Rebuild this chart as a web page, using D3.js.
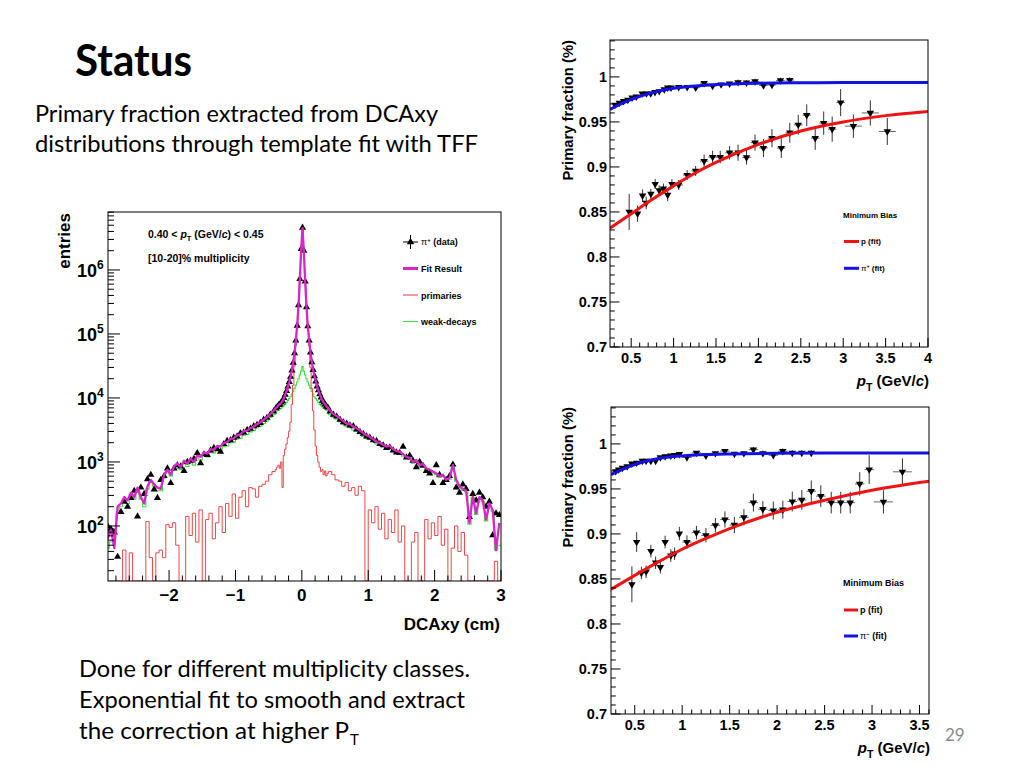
<!DOCTYPE html>
<html><head><meta charset="utf-8">
<script src="https://cdn.jsdelivr.net/npm/d3@7"></script>
<style>
html,body{margin:0;padding:0;background:#fff;}
svg{display:block;}
</style></head><body>
<svg id="c" width="1024" height="768"></svg>
<script>
// ---------------- DATA ----------------
// Left plot: DCAxy template fit, 0.40<pT<0.45, [10-20]% multiplicity
// bins: 0.05 cm in tails, 0.02 cm in the core (-0.4..0.4)
const dcaTicks = [-2, -1, 0, 1, 2, 3];
const entriesTicks = [1e2, 1e3, 1e4, 1e5, 1e6];
const entriesTickExp = ["2", "3", "4", "5", "6"];

const piData = [
  // left tail
  100,89,79,33,166,240,200,275,355,141,398,316,537,631,372,275,525,603,794,468,794,891,851,724,1000,1047,1122,1380,955,1318,1288,1514,1660,1585,1445,1905,2138,2188,2399,2512,2818,2884,3162,3311,3631,3802,4074,4571,4898,5495,6166,
  // core
  6900,7250,7750,7950,8500,8900,10000,11200,12900,15100,17800,21400,26900,35500,50100,79400,135000,282000,724000,2140000,4570000,2000000,661000,263000,132000,79400,51300,36300,27500,21900,18200,15100,13200,11500,10200,9100,8500,7950,7400,7100,
  // right tail
  6166,5495,5129,4571,4169,3981,3715,3631,3236,2951,2754,2512,2399,2188,2138,1905,1820,1660,1698,1514,1413,1380,1738,1175,1259,1047,832,1000,871,724,661,468,891,631,468,525,603,912,398,331,447,380,138,316,251,331,282,200,240,72,158,148
];
const fitResult = [
  63,89,45,200,224,282,251,331,282,398,282,224,417,525,447,398,380,631,759,631,851,955,832,1047,933,1122,1000,1259,1202,1413,1349,1585,1549,1778,1738,1995,2042,2291,2344,2630,2692,3020,3090,3388,3548,3890,4169,4571,5012,5623,6310,
  6950,7200,7800,8000,8450,8950,9900,11300,12800,15200,17700,21500,26800,35700,50500,80000,137000,280000,720000,2100000,4500000,1980000,665000,265000,131000,80000,51000,36500,27300,22000,18100,15200,13100,11600,10100,9150,8450,8000,7350,7150,
  6310,5623,5248,4786,4365,3981,3890,3548,3388,3090,2818,2630,2455,2291,2042,1995,1862,1738,1778,1585,1479,1445,1318,1202,1148,1000,1072,891,933,794,759,708,661,603,631,525,562,891,525,417,380,355,112,288,158,282,251,126,224,178,42,112
];
const primaries = [
  0,0,0,0,0,42,0,38,0,0,0,0,117,32,0,38,42,32,105,95,112,50,0,0,141,71,158,56,178,0,126,158,63,112,200,79,224,141,316,132,282,355,200,398,380,282,417,447,501,631,708,
  759,832,891,794,1000,398,1259,1585,1905,2399,3020,4169,7943,15850,31620,66070,120200,263000,691800,2089000,4571000,1950000,645700,251200,123000,66070,30200,14130,6310,3162,1778,1259,1000,832,708,759,631,724,603,661,
  708,631,525,501,417,479,355,398,302,417,355,0,178,112,200,89,158,63,126,79,178,56,100,0,0,56,79,0,0,126,63,112,71,141,50,89,0,45,100,40,79,35,0,0,0,0,0,0,0,0,28,0
];
const weakDecays = [
  45,56,89,158,200,251,224,316,263,355,263,200,380,479,417,355,355,562,676,603,759,851,759,933,851,1000,891,1122,1072,1259,1202,1413,1380,1549,1514,1738,1778,1995,2042,2291,2344,2630,2692,2951,3090,3388,3631,3981,4365,4898,5495,
  6026,6310,6457,6761,6918,7244,7586,7943,8511,9120,9772,10470,11480,12590,14130,15850,17780,19950,22910,26300,30900,26300,22910,19950,17780,15850,14130,12590,11480,10470,9772,9120,8511,7943,7586,7244,6918,6761,6457,6310,
  5495,5012,4677,4266,3890,3548,3467,3162,3020,2754,2512,2344,2291,2089,1905,1862,1738,1622,1660,1479,1380,1349,1230,1148,1096,955,1023,851,891,759,724,676,631,575,603,501,537,851,501,398,363,339,107,275,151,269,240,120,214,170,42,50
];

// Right plots: primary fraction vs pT
const fracTicks = [0.7, 0.75, 0.8, 0.85, 0.9, 0.95, 1];
const ptTicksTop = [0.5, 1, 1.5, 2, 2.5, 3, 3.5, 4];
const ptTicksBot = [0.5, 1, 1.5, 2, 2.5, 3, 3.5];

// top panel
const piTopX = [0.31,0.36,0.41,0.46,0.51,0.56,0.63,0.68,0.73,0.78,0.83,0.89,0.93,0.97,1.06,1.16,1.26,1.36,1.46,1.56,1.66,1.76,1.86,1.96,2.06,2.16,2.26,2.37];
const piTopY = [0.969,0.971,0.973,0.9745,0.977,0.978,0.9815,0.9815,0.9815,0.983,0.984,0.986,0.988,0.988,0.9885,0.9885,0.988,0.993,0.990,0.9915,0.9925,0.994,0.9935,0.995,0.9905,0.991,0.996,0.9965];
const piTopErr = [0.0015,0.0015,0.0015,0.0015,0.0015,0.0015,0.0015,0.0015,0.0015,0.0015,0.0015,0.0015,0.0015,0.0015,0.002,0.002,0.002,0.002,0.002,0.002,0.002,0.003,0.003,0.003,0.003,0.003,0.003,0.003];
const piTopXErr = [0.025,0.025,0.025,0.025,0.025,0.025,0.025,0.025,0.025,0.025,0.025,0.025,0.025,0.025,0.05,0.05,0.05,0.05,0.05,0.05,0.05,0.05,0.05,0.05,0.05,0.05,0.05,0.05];
const pTopX = [0.476,0.575,0.634,0.677,0.732,0.783,0.83,0.88,0.93,0.98,1.06,1.16,1.26,1.36,1.46,1.55,1.66,1.76,1.86,1.96,2.06,2.16,2.27,2.37,2.47,2.57,2.67,2.77,2.87,2.97,3.12,3.32,3.52];
const pTopY = [0.850,0.848,0.868,0.860,0.870,0.881,0.874,0.876,0.869,0.881,0.880,0.891,0.8955,0.9065,0.911,0.911,0.9158,0.9158,0.9106,0.927,0.921,0.932,0.921,0.938,0.9468,0.9575,0.932,0.9486,0.942,0.9715,0.9453,0.960,0.9394];
const pTopErr = [0.020,0.009,0.007,0.007,0.0055,0.0055,0.0055,0.0055,0.007,0.0055,0.0055,0.0055,0.0055,0.007,0.007,0.007,0.0075,0.009,0.008,0.009,0.010,0.010,0.011,0.011,0.011,0.012,0.013,0.013,0.014,0.015,0.013,0.014,0.015];
const pTopXErr = [0.025,0.025,0.025,0.025,0.025,0.025,0.025,0.025,0.025,0.025,0.05,0.05,0.05,0.05,0.05,0.05,0.05,0.05,0.05,0.05,0.05,0.05,0.05,0.05,0.05,0.05,0.05,0.05,0.05,0.05,0.1,0.1,0.1];
const fitTopX = [0.25,0.5,0.75,1,1.25,1.5,2,2.5,3,3.5,4];
const fitTopPi = [0.964,0.975,0.9826,0.9874,0.990,0.9915,0.9930,0.9935,0.9937,0.9937,0.9937];
const fitTopP = [0.832,0.848,0.864,0.879,0.893,0.905,0.925,0.940,0.950,0.957,0.9616];

// bottom panel
const piBotX = [0.30,0.33,0.37,0.42,0.47,0.52,0.58,0.62,0.67,0.72,0.77,0.82,0.88,0.92,0.97,1.05,1.15,1.25,1.35,1.45,1.55,1.65,1.75,1.85,1.96,2.06,2.16,2.26,2.36];
const piBotY = [0.9696,0.9715,0.9733,0.975,0.978,0.979,0.981,0.981,0.981,0.981,0.985,0.986,0.987,0.9874,0.9885,0.985,0.990,0.987,0.9896,0.992,0.9889,0.9896,0.9937,0.9896,0.9874,0.9919,0.990,0.990,0.990];
const piBotErr = [0.0015,0.0015,0.0015,0.0015,0.0015,0.0015,0.0015,0.0015,0.0015,0.0015,0.0015,0.0015,0.0015,0.0015,0.0015,0.002,0.002,0.002,0.002,0.002,0.002,0.002,0.003,0.003,0.003,0.003,0.003,0.003,0.003];
const piBotXErr = [0.025,0.025,0.025,0.025,0.025,0.025,0.025,0.025,0.025,0.025,0.025,0.025,0.025,0.025,0.025,0.05,0.05,0.05,0.05,0.05,0.05,0.05,0.05,0.05,0.05,0.05,0.05,0.05,0.05];
const pBotX = [0.47,0.52,0.57,0.62,0.67,0.72,0.77,0.82,0.88,0.92,0.97,1.05,1.15,1.25,1.35,1.45,1.55,1.65,1.75,1.85,1.96,2.06,2.16,2.26,2.36,2.46,2.57,2.67,2.77,2.87,2.97,3.12,3.32];
const pBotY = [0.844,0.891,0.8567,0.858,0.881,0.868,0.863,0.891,0.876,0.878,0.9004,0.891,0.9015,0.8985,0.9096,0.916,0.910,0.9185,0.9348,0.9274,0.926,0.927,0.936,0.9378,0.9474,0.942,0.9348,0.9348,0.9348,0.9556,0.9715,0.9356,0.969];
const pBotErr = [0.020,0.011,0.007,0.007,0.007,0.007,0.007,0.007,0.007,0.007,0.0075,0.0075,0.0075,0.008,0.008,0.009,0.009,0.009,0.01,0.009,0.01,0.01,0.011,0.011,0.012,0.012,0.012,0.012,0.012,0.013,0.016,0.013,0.015];
const pBotXErr = [0.025,0.025,0.025,0.025,0.025,0.025,0.025,0.025,0.025,0.025,0.025,0.05,0.05,0.05,0.05,0.05,0.05,0.05,0.05,0.05,0.05,0.05,0.05,0.05,0.05,0.05,0.05,0.05,0.05,0.05,0.05,0.1,0.1];
const fitBotX = [0.25,0.5,0.75,1,1.25,1.5,2,2.5,3,3.6];
const fitBotPi = [0.966,0.977,0.9837,0.9867,0.9882,0.9889,0.9896,0.9899,0.990,0.990];
const fitBotP = [0.8385,0.854,0.869,0.883,0.895,0.906,0.924,0.9374,0.9485,0.9585];

// ---------------- DRAWING ----------------
const svg = d3.select('#c');
svg.append('rect').attr('width', 1024).attr('height', 768).attr('fill', '#fff');
const defs = svg.append('defs');
const ROOTF = '"Liberation Sans", Arial, Helvetica, sans-serif';
const SLIDEF = 'Lato, Carlito, "Open Sans", sans-serif';

// slide text
function slideText(str, x, y, size, w, bold) {
  return svg.append('text').attr('x', x).attr('y', y)
    .attr('font-family', SLIDEF).attr('font-size', size)
    .attr('font-weight', bold ? 700 : 400).attr('fill', '#000')
    .attr('textLength', w).attr('lengthAdjust', 'spacingAndGlyphs').text(str);
}
slideText('Status', 75, 76, 43, 117, true);
slideText('Primary fraction extracted from DCAxy', 35, 122, 23, 403, false);
slideText('distributions through template fit with TFF', 35, 152, 23, 443, false);
slideText('Done for different multiplicity classes.', 79, 677, 23, 391, false);
slideText('Exponential fit to smooth and extract', 79, 708, 23, 386, false);
slideText('the correction at higher P', 79, 739, 23, 270, false);
svg.append('text').attr('x', 350).attr('y', 745).attr('font-family', SLIDEF).attr('font-size', 15).text('T');
svg.append('text').attr('x', 945).attr('y', 741).attr('font-family', SLIDEF).attr('font-size', 17).attr('fill', '#8a8a8a').text('29');

// ---------- Left plot ----------
const LP = { x0: 108, x1: 501, y0: 212, y1: 581 };
const edges = [];
for (let i = 0; i <= 51; i++) edges.push(+(-2.95 + 0.05 * i).toFixed(3));
for (let i = 1; i <= 40; i++) edges.push(+(-0.40 + 0.02 * i).toFixed(3));
for (let i = 1; i <= 52; i++) edges.push(+(0.40 + 0.05 * i).toFixed(3));
const centers = edges.slice(0, -1).map((e, i) => (e + edges[i + 1]) / 2);

const xL = d3.scaleLinear().domain([-2.92, 3.0]).range([LP.x0, LP.x1]);
const yL = d3.scaleLog().domain([13.8, 8.05e6]).range([LP.y1, LP.y0]).clamp(true);
const yv = v => (v > 0 ? yL(v) : LP.y1);

defs.append('clipPath').attr('id', 'clipL').append('rect')
  .attr('x', LP.x0).attr('y', LP.y0).attr('width', LP.x1 - LP.x0).attr('height', LP.y1 - LP.y0);
const gL = svg.append('g').attr('font-family', ROOTF).attr('font-weight', 'bold');
const gLc = gL.append('g').attr('clip-path', 'url(#clipL)');

function stepPath(vals) {
  const p = [];
  vals.forEach((v, i) => { p.push([xL(edges[i]), yv(v)]); p.push([xL(edges[i + 1]), yv(v)]); });
  return d3.line()(p);
}
gLc.append('path').attr('d', stepPath(weakDecays)).attr('fill', 'none').attr('stroke', '#3fe03f').attr('stroke-width', 1.1);
gLc.append('path').attr('d', stepPath(primaries)).attr('fill', 'none').attr('stroke', '#e83434').attr('stroke-width', 0.9);
gLc.selectAll('path.tri').data(piData).join('path').attr('class', 'tri')
  .attr('transform', (d, i) => `translate(${xL(centers[i])},${yv(d)})`)
  .attr('d', d3.symbol(d3.symbolTriangle, 22)).attr('fill', '#000');
gLc.append('path')
  .attr('d', d3.line().x((d, i) => xL(centers[i])).y(d => yv(d))(fitResult))
  .attr('fill', 'none').attr('stroke', '#d826c8').attr('stroke-width', 2.3).attr('stroke-linejoin', 'round');

// frame
gL.append('rect').attr('x', LP.x0).attr('y', LP.y0).attr('width', LP.x1 - LP.x0).attr('height', LP.y1 - LP.y0)
  .attr('fill', 'none').attr('stroke', '#000').attr('stroke-width', 1);
// x ticks
for (let k = -14; k <= 15; k++) {
  const v = k * 0.2; const major = k % 5 === 0;
  gL.append('line').attr('x1', xL(v)).attr('x2', xL(v)).attr('y1', LP.y1).attr('y2', LP.y1 - (major ? 11 : 5.5))
    .attr('stroke', '#000').attr('stroke-width', 1);
}
dcaTicks.forEach(v => {
  gL.append('text').attr('x', xL(v)).attr('y', 601).attr('text-anchor', 'middle').attr('font-size', 17)
    .text(v < 0 ? '\u2212' + Math.abs(v) : String(v));
});
gL.append('text').attr('x', 500).attr('y', 630).attr('text-anchor', 'end').attr('font-size', 17).text('DCAxy (cm)');
// y ticks
for (let e = 1; e <= 6; e++) {
  for (let m = 1; m <= 9; m++) {
    const v = m * Math.pow(10, e);
    if (v < 13.8 || v > 8.05e6) continue;
    const major = m === 1;
    gL.append('line').attr('x1', LP.x0).attr('x2', LP.x0 + (major ? 12 : 6)).attr('y1', yL(v)).attr('y2', yL(v))
      .attr('stroke', '#000').attr('stroke-width', 1);
  }
}
entriesTicks.forEach((v, i) => {
  const t = gL.append('text').attr('x', 77).attr('y', yL(v) + 7).attr('font-size', 18);
  t.append('tspan').text('10');
  t.append('tspan').attr('dy', -8).attr('font-size', 12).text(entriesTickExp[i]);
});
gL.append('text').attr('transform', 'translate(70,213) rotate(-90)').attr('text-anchor', 'end').attr('font-size', 17).text('entries');

// in-plot texts
{
  const t = gL.append('text').attr('x', 148).attr('y', 238).attr('font-size', 10.5);
  t.append('tspan').text('0.40 < ');
  t.append('tspan').attr('font-style', 'italic').text('p');
  t.append('tspan').attr('dy', 3).attr('font-size', 7.5).text('T');
  t.append('tspan').attr('dy', -3).text(' (GeV/');
  t.append('tspan').attr('font-style', 'italic').text('c');
  t.append('tspan').text(') < 0.45');
  gL.append('text').attr('x', 148).attr('y', 262).attr('font-size', 10.5).text('[10-20]% multiplicity');
}
// legend
{
  const lx0 = 403, lx1 = 418, tx = 421;
  // data marker
  gL.append('line').attr('x1', lx0).attr('x2', lx1).attr('y1', 242).attr('y2', 242).attr('stroke', '#000');
  gL.append('line').attr('x1', 410.5).attr('x2', 410.5).attr('y1', 235).attr('y2', 249).attr('stroke', '#000');
  gL.append('path').attr('transform', 'translate(410.5,242)').attr('d', d3.symbol(d3.symbolTriangle, 24)).attr('fill', '#000');
  const t = gL.append('text').attr('x', tx).attr('y', 245).attr('font-size', 9);
  t.append('tspan').attr('font-weight', 'normal').text('\u03c0');
  t.append('tspan').attr('dy', -3).attr('font-size', 6).text('+');
  t.append('tspan').attr('dy', 3).text(' (data)');
  gL.append('line').attr('x1', lx0).attr('x2', lx1).attr('y1', 268.5).attr('y2', 268.5).attr('stroke', '#d826c8').attr('stroke-width', 3);
  gL.append('text').attr('x', tx).attr('y', 272).attr('font-size', 9).text('Fit Result');
  gL.append('line').attr('x1', lx0).attr('x2', lx1).attr('y1', 295).attr('y2', 295).attr('stroke', '#e83434').attr('stroke-width', 1);
  gL.append('text').attr('x', tx).attr('y', 298.5).attr('font-size', 9).text('primaries');
  gL.append('line').attr('x1', lx0).attr('x2', lx1).attr('y1', 321.5).attr('y2', 321.5).attr('stroke', '#3fe03f').attr('stroke-width', 1);
  gL.append('text').attr('x', tx).attr('y', 325).attr('font-size', 9).text('weak-decays');
}

// ---------- Right panels ----------
function panel(cfg) {
  const g = svg.append('g').attr('font-family', ROOTF).attr('font-weight', 'bold');
  const x = d3.scaleLinear().domain(cfg.xd).range([cfg.x0, cfg.x1]);
  const y = d3.scaleLinear().domain([0.7, 1.041]).range([cfg.y1, cfg.y0]);
  const cid = 'clip' + cfg.id;
  defs.append('clipPath').attr('id', cid).append('rect')
    .attr('x', cfg.x0).attr('y', cfg.y0).attr('width', cfg.x1 - cfg.x0).attr('height', cfg.y1 - cfg.y0);
  const gc = g.append('g').attr('clip-path', `url(#${cid})`);

  // error bars + markers
  function drawPoints(X, Y, E, XE) {
    X.forEach((xv, i) => {
      gc.append('line').attr('x1', x(xv)).attr('x2', x(xv)).attr('y1', y(Y[i] - E[i])).attr('y2', y(Y[i] + E[i]))
        .attr('stroke', '#333').attr('stroke-width', 1);
      gc.append('line').attr('x1', x(xv - XE[i])).attr('x2', x(xv + XE[i])).attr('y1', y(Y[i])).attr('y2', y(Y[i]))
        .attr('stroke', '#666').attr('stroke-width', 1);
    });
    gc.selectAll(null).data(Y).join('path')
      .attr('transform', (d, i) => `translate(${x(X[i])},${y(d)}) rotate(180)`)
      .attr('d', d3.symbol(d3.symbolTriangle, 24)).attr('fill', '#000');
  }
  drawPoints(cfg.piX, cfg.piY, cfg.piE, cfg.piXE);
  drawPoints(cfg.pX, cfg.pY, cfg.pE, cfg.pXE);

  const line = d3.line().x((d, i) => x(cfg.fitX[i])).y(d => y(d)).curve(d3.curveMonotoneX);
  gc.append('path').attr('d', line(cfg.fitPi)).attr('fill', 'none').attr('stroke', '#1212e6').attr('stroke-width', 3);
  gc.append('path').attr('d', line(cfg.fitP)).attr('fill', 'none').attr('stroke', '#ee1414').attr('stroke-width', 3);

  // frame
  g.append('rect').attr('x', cfg.x0).attr('y', cfg.y0).attr('width', cfg.x1 - cfg.x0).attr('height', cfg.y1 - cfg.y0)
    .attr('fill', 'none').attr('stroke', '#000').attr('stroke-width', 1);
  // x ticks
  for (let k = 3; k <= Math.floor(cfg.xd[1] * 10 + 1e-6); k++) {
    const v = k / 10; const major = k % 5 === 0;
    g.append('line').attr('x1', x(v)).attr('x2', x(v)).attr('y1', cfg.y1).attr('y2', cfg.y1 - (major ? 9 : 4.5))
      .attr('stroke', '#000').attr('stroke-width', 1);
  }
  cfg.xTicks.forEach(v => {
    g.append('text').attr('x', x(v)).attr('y', cfg.y1 + 16).attr('text-anchor', 'middle').attr('font-size', 14.5).text(String(v));
  });
  // y ticks
  for (let k = 70; k <= 104; k++) {
    const v = k / 100; const major = k % 5 === 0;
    g.append('line').attr('x1', cfg.x0).attr('x2', cfg.x0 + (major ? 9.5 : 4.8)).attr('y1', y(v)).attr('y2', y(v))
      .attr('stroke', '#000').attr('stroke-width', 1);
  }
  fracTicks.forEach(v => {
    g.append('text').attr('x', 607).attr('y', y(v) + 5).attr('text-anchor', 'end').attr('font-size', 14.5).text(String(v));
  });
  g.append('text').attr('transform', `translate(573,${cfg.y0}) rotate(-90)`).attr('text-anchor', 'end')
    .attr('font-size', 14.8).text('Primary fraction (%)');
  // x label
  {
    const t = g.append('text').attr('x', cfg.x1 + 1).attr('y', cfg.y1 + 39).attr('text-anchor', 'end').attr('font-size', 15);
    t.append('tspan').attr('font-style', 'italic').text('p');
    t.append('tspan').attr('dy', 4.5).attr('font-size', 10.5).text('T');
    t.append('tspan').attr('dy', -4.5).text(' (GeV/');
    t.append('tspan').attr('font-style', 'italic').text('c');
    t.append('tspan').text(')');
  }
  // legend
  const L = cfg.leg;
  g.append('text').attr('x', 843).attr('y', L.y0 + L.fs * 0.37).attr('font-size', L.fs).text('Minimum Bias');
  g.append('line').attr('x1', 844).attr('x2', L.lx1).attr('y1', L.y1).attr('y2', L.y1).attr('stroke', '#ee1414').attr('stroke-width', 3);
  g.append('text').attr('x', L.lx1 + 2).attr('y', L.y1 + L.fs * 0.37).attr('font-size', L.fs).text('p (fit)');
  g.append('line').attr('x1', 844).attr('x2', L.lx1).attr('y1', L.y2).attr('y2', L.y2).attr('stroke', '#1212e6').attr('stroke-width', 3);
  const t2 = g.append('text').attr('x', L.lx1 + 2).attr('y', L.y2 + L.fs * 0.37).attr('font-size', L.fs);
  t2.append('tspan').attr('font-weight', 'normal').text('\u03c0');
  t2.append('tspan').attr('dy', -L.fs * 0.35).attr('font-size', L.fs * 0.65).text(L.sign);
  t2.append('tspan').attr('dy', L.fs * 0.35).text(' (fit)');
}

panel({
  id: 'T', x0: 610, x1: 928, y0: 40, y1: 347, xd: [0.25, 4], xTicks: ptTicksTop,
  piX: piTopX, piY: piTopY, piE: piTopErr, piXE: piTopXErr,
  pX: pTopX, pY: pTopY, pE: pTopErr, pXE: pTopXErr,
  fitX: fitTopX, fitPi: fitTopPi, fitP: fitTopP,
  leg: { y0: 215.5, y1: 241.5, y2: 268.3, fs: 8, lx1: 859, sign: '+' }
});
panel({
  id: 'B', x0: 611, x1: 929, y0: 407, y1: 714, xd: [0.25, 3.6], xTicks: ptTicksBot,
  piX: piBotX, piY: piBotY, piE: piBotErr, piXE: piBotXErr,
  pX: pBotX, pY: pBotY, pE: pBotErr, pXE: pBotXErr,
  fitX: fitBotX, fitPi: fitBotPi, fitP: fitBotP,
  leg: { y0: 583, y1: 610, y2: 636, fs: 9, lx1: 858, sign: '\u2212' }
});
</script>
</body></html>
